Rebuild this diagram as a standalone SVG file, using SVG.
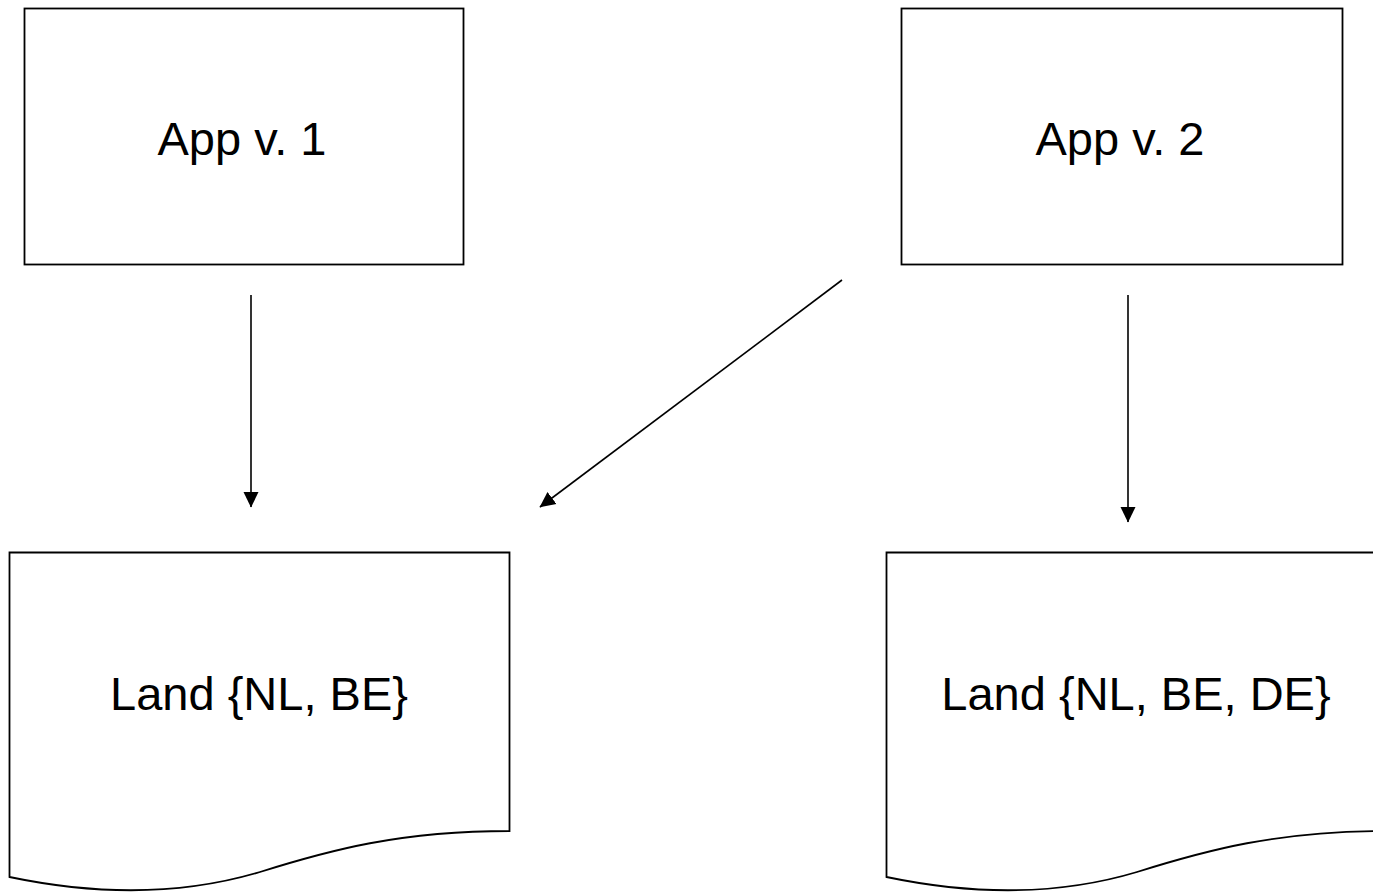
<svg xmlns="http://www.w3.org/2000/svg" width="1373" height="895" viewBox="0 0 1373 895">
  <defs>
    <style>
      .shape { fill: #ffffff; stroke: #000000; stroke-width: 1.8; }
      .label { font-family: "Liberation Sans", Arial, sans-serif; font-size: 47px; fill: #000000; text-anchor: middle; }
      .edge { fill: none; stroke: #000000; stroke-width: 1.6; }
    </style>
    <marker id="arrow" markerWidth="16" markerHeight="16" refX="15" refY="8" orient="auto" markerUnits="userSpaceOnUse">
      <path d="M0,0.5 L15.5,8 L0,15.5 Z" fill="#000000"/>
    </marker>
  </defs>
  <rect width="1373" height="895" fill="#ffffff"/>

  <g id="app-v1">
    <rect class="shape" x="24.5" y="8.5" width="439" height="256"/>
    <text class="label" x="242" y="155">App v. 1</text>
  </g>

  <g id="app-v2">
    <rect class="shape" x="901.5" y="8.5" width="441" height="256"/>
    <text class="label" x="1120" y="155">App v. 2</text>
  </g>

  <g id="land-v1">
    <path class="shape" d="M9.5,552.5 L509.5,552.5 L509.5,831 C400,831 330,850 260,872 C190,893 110,898 9.5,877 Z"/>
    <text class="label" x="259" y="710">Land {NL, BE}</text>
  </g>

  <g id="land-v2">
    <path class="shape" d="M886.5,552.5 L1386.5,552.5 L1386.5,831 C1277,831 1207,850 1137,872 C1067,893 987,898 886.5,877 Z"/>
    <text class="label" x="1136" y="710">Land {NL, BE, DE}</text>
  </g>

  <g id="connectors">
    <line class="edge" x1="251" y1="295" x2="251" y2="507" marker-end="url(#arrow)"/>
    <line class="edge" x1="842" y1="280" x2="540" y2="507" marker-end="url(#arrow)"/>
    <line class="edge" x1="1128" y1="295" x2="1128" y2="522" marker-end="url(#arrow)"/>
  </g>
</svg>
